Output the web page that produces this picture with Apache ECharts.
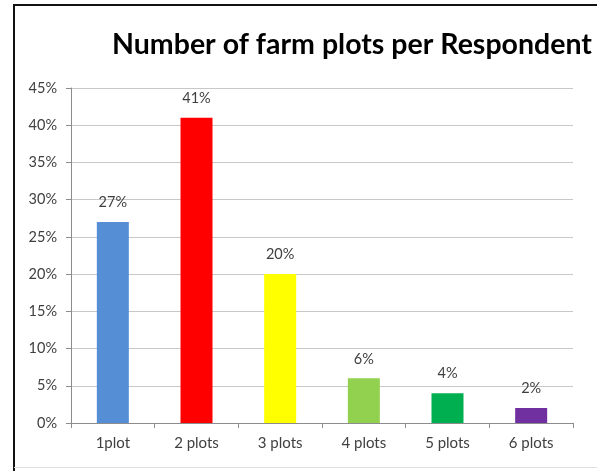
<!DOCTYPE html>
<html>
<head>
<meta charset="utf-8">
<script src="https://cdn.jsdelivr.net/npm/echarts@6/dist/echarts.min.js"></script>
<style>
  html, body { margin: 0; padding: 0; background: #fff; }
  #chart { width: 597px; height: 471px; }
</style>
</head>
<body>
<div id="chart"></div>
<script>
// Share of respondents by number of farm plots owned
const categories = ['1plot', '2 plots', '3 plots', '4 plots', '5 plots', '6 plots'];
const shares = [27, 41, 20, 6, 4, 2];
const barColors = ['#558ed5', '#ff0000', '#ffff00', '#92d050', '#00b050', '#7030a0'];
const yTicks = [0, 5, 10, 15, 20, 25, 30, 35, 40, 45];

const textColor = '#404040';
const fontFamily = 'Lato, "Open Sans", sans-serif';

const chart = echarts.init(document.getElementById('chart'));
chart.setOption({
  animation: false,
  title: {
    text: 'Number of farm plots per Respondent',
    left: 347,
    textAlign: 'center',
    top: 25,
    textStyle: { fontFamily: fontFamily, fontWeight: 'bold', fontSize: 28.5, color: '#000' }
  },
  grid: { left: 71, right: 24, top: 88, bottom: 48 },
  xAxis: {
    type: 'category',
    data: categories,
    axisLine: { lineStyle: { color: '#8c8c8c', width: 1 } },
    axisTick: { show: true, length: 5, alignWithLabel: false, lineStyle: { color: '#8c8c8c' } },
    axisLabel: { color: textColor, fontFamily: fontFamily, fontSize: 15, margin: 13 }
  },
  yAxis: {
    type: 'value',
    min: yTicks[0],
    max: yTicks[yTicks.length - 1],
    interval: 5,
    axisLine: { show: true, lineStyle: { color: '#8c8c8c' } },
    axisTick: { show: true, length: 5, lineStyle: { color: '#8c8c8c' } },
    axisLabel: { color: textColor, fontFamily: fontFamily, fontSize: 14.5, margin: 14, formatter: '{value}%' },
    splitLine: { lineStyle: { color: '#c8c8c8', width: 1 } }
  },
  series: [{
    type: 'bar',
    data: shares.map((v, i) => ({ value: v, itemStyle: { color: barColors[i] } })),
    barWidth: 32,
    label: {
      show: true,
      position: 'top',
      distance: 12,
      formatter: '{c}%',
      color: textColor,
      fontFamily: fontFamily,
      fontSize: 14.5
    }
  }],
  graphic: [
    { type: 'line', shape: { x1: 13, y1: 5, x2: 597, y2: 5 }, style: { stroke: '#111', lineWidth: 2 } },
    { type: 'line', shape: { x1: 14, y1: 4, x2: 14, y2: 471 }, style: { stroke: '#111', lineWidth: 2 } },
    { type: 'line', shape: { x1: 14, y1: 467.5, x2: 597, y2: 467.5 }, style: { stroke: '#e0e0e0', lineWidth: 1 } }
  ]
});
</script>
</body>
</html>
